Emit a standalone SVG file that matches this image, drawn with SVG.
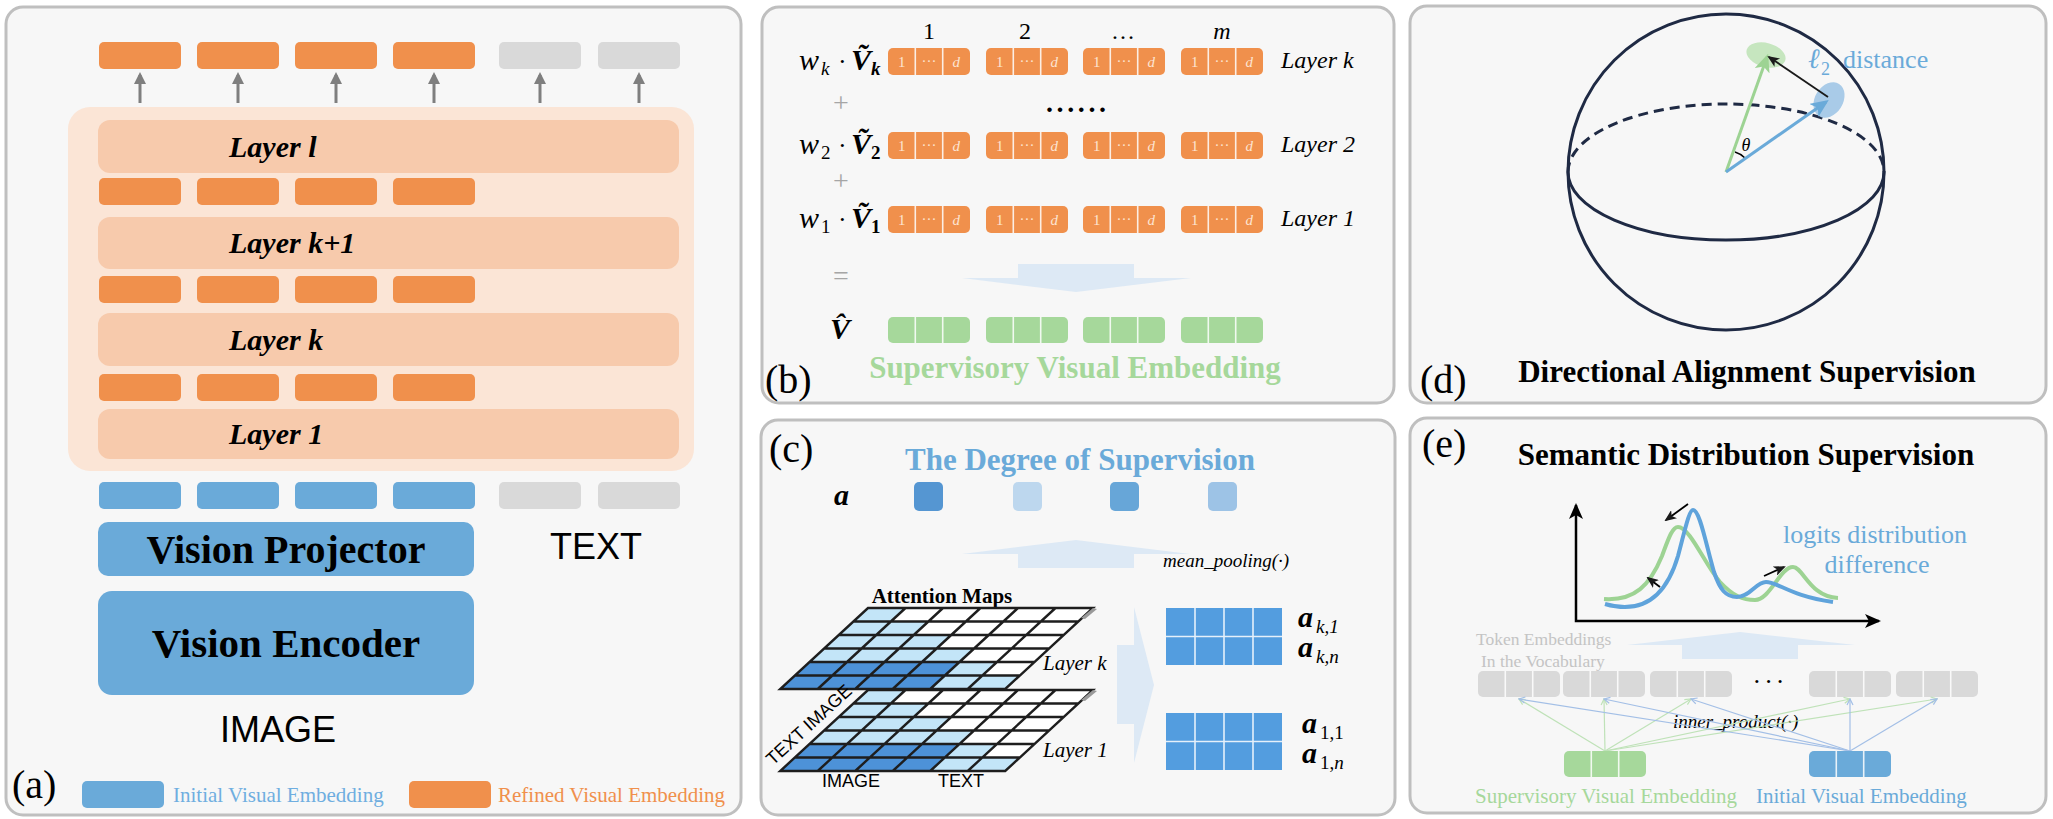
<svg xmlns="http://www.w3.org/2000/svg" width="2053" height="819" viewBox="0 0 2053 819">
<defs>
<style>
.bg{fill:#ffffff}
.panel{fill:#f7f7f7;stroke:#bfbfbf;stroke-width:3}
.o{fill:#f0904c}
.b{fill:#6aaad9}
.g{fill:#d9d9d9}
.gr{fill:#a6d89b}
.layer{fill:#f7caac}
.serif{font-family:"Liberation Serif","DejaVu Serif",serif}
.sans{font-family:"Liberation Sans",Arial,sans-serif}
.bold{font-weight:bold}
.it{font-style:italic}
.plabel{font-family:"Liberation Serif",serif;font-size:40px;fill:#000}
.title{font-family:"Liberation Serif",serif;font-size:31px;font-weight:bold}
.div{stroke:#ffffff;stroke-width:1.6;opacity:0.85}
.cell{font-family:"Liberation Serif","DejaVu Serif",serif;font-size:15px;fill:#fde4d2;text-anchor:middle}
.lightarrow{fill:#dde9f5}
.grid{fill:none;stroke:#1e1e1e;stroke-width:2.4}
.dk{fill:#4d92d8}
.lt{fill:#c3e5f8}
.wh{fill:#ffffff}
.mat{fill:#539ddf}
</style>
<marker id="mGray" viewBox="0 0 12 12" refX="9" refY="6" markerWidth="12" markerHeight="12" markerUnits="userSpaceOnUse" orient="auto"><path d="M0,0 L12,6 L0,12 z" fill="#7f7f7f"/></marker>
<marker id="mGreen" viewBox="0 0 16 14" refX="13" refY="7" markerWidth="18" markerHeight="16" markerUnits="userSpaceOnUse" orient="auto"><path d="M0,0 L16,7 L0,14 L4,7 z" fill="#9dd393"/></marker>
<marker id="mBlue" viewBox="0 0 16 14" refX="13" refY="7" markerWidth="18" markerHeight="16" markerUnits="userSpaceOnUse" orient="auto"><path d="M0,0 L16,7 L0,14 L4,7 z" fill="#6aaad9"/></marker>
<marker id="mBlack" viewBox="0 0 12 10" refX="10" refY="5" markerWidth="12" markerHeight="10" markerUnits="userSpaceOnUse" orient="auto"><path d="M0,0 L12,5 L0,10 L3,5 z" fill="#1a1a1a"/></marker>
<marker id="mAxis" viewBox="0 0 16 14" refX="14" refY="7" markerWidth="16" markerHeight="14" markerUnits="userSpaceOnUse" orient="auto-start-reverse"><path d="M0,0 L16,7 L0,14 L4,7 z" fill="#000"/></marker>
<marker id="mThinG" viewBox="0 0 8 8" refX="7" refY="4" markerWidth="8" markerHeight="8" markerUnits="userSpaceOnUse" orient="auto"><path d="M1,1 L7,4 L1,7" fill="none" stroke="#bfe2b8" stroke-width="1.2"/></marker>
<marker id="mThinB" viewBox="0 0 8 8" refX="7" refY="4" markerWidth="8" markerHeight="8" markerUnits="userSpaceOnUse" orient="auto"><path d="M1,1 L7,4 L1,7" fill="none" stroke="#a3bfe6" stroke-width="1.2"/></marker>
</defs>
<rect class="bg" x="0" y="0" width="2053" height="819"/>

<!-- ===== Panel (a) ===== -->
<g id="panel-a">
<rect class="panel" x="6" y="7" width="735" height="808" rx="17"/>
<rect id="stack" x="68" y="107" width="626" height="364" rx="22" fill="#fbe5d6"/>
<g id="top-tokens">
<rect class="o" x="99" y="42" width="82" height="27" rx="5"/>
<rect class="o" x="197" y="42" width="82" height="27" rx="5"/>
<rect class="o" x="295" y="42" width="82" height="27" rx="5"/>
<rect class="o" x="393" y="42" width="82" height="27" rx="5"/>
<rect class="g" x="499" y="42" width="82" height="27" rx="5"/>
<rect class="g" x="598" y="42" width="82" height="27" rx="5"/>
</g>
<g id="layer-l"><rect class="layer" x="98" y="120" width="581" height="53" rx="12"/><text class="serif bold it" x="229" y="157" font-size="30">Layer l</text></g>
<g id="tokens-kp1">
<rect class="o" x="99" y="178" width="82" height="27" rx="5"/><rect class="o" x="197" y="178" width="82" height="27" rx="5"/><rect class="o" x="295" y="178" width="82" height="27" rx="5"/><rect class="o" x="393" y="178" width="82" height="27" rx="5"/>
</g>
<g id="layer-kp1"><rect class="layer" x="98" y="217" width="581" height="52" rx="12"/><text class="serif bold it" x="229" y="253" font-size="30">Layer k+1</text></g>
<g id="tokens-k">
<rect class="o" x="99" y="276" width="82" height="27" rx="5"/><rect class="o" x="197" y="276" width="82" height="27" rx="5"/><rect class="o" x="295" y="276" width="82" height="27" rx="5"/><rect class="o" x="393" y="276" width="82" height="27" rx="5"/>
</g>
<g id="layer-k"><rect class="layer" x="98" y="313" width="581" height="53" rx="12"/><text class="serif bold it" x="229" y="350" font-size="30">Layer k</text></g>
<g id="tokens-1">
<rect class="o" x="99" y="374" width="82" height="27" rx="5"/><rect class="o" x="197" y="374" width="82" height="27" rx="5"/><rect class="o" x="295" y="374" width="82" height="27" rx="5"/><rect class="o" x="393" y="374" width="82" height="27" rx="5"/>
</g>
<g id="layer-1"><rect class="layer" x="98" y="409" width="581" height="50" rx="12"/><text class="serif bold it" x="229" y="444" font-size="30">Layer 1</text></g>
<g id="input-tokens">
<rect class="b" x="99" y="482" width="82" height="27" rx="5"/><rect class="b" x="197" y="482" width="82" height="27" rx="5"/><rect class="b" x="295" y="482" width="82" height="27" rx="5"/><rect class="b" x="393" y="482" width="82" height="27" rx="5"/>
<rect class="g" x="499" y="482" width="82" height="27" rx="5"/><rect class="g" x="598" y="482" width="82" height="27" rx="5"/>
</g>
<g id="vision-projector"><rect class="b" x="98" y="522" width="376" height="54" rx="10"/><text class="serif bold" x="286" y="563" font-size="40" text-anchor="middle">Vision Projector</text></g>
<g id="vision-encoder"><rect class="b" x="98" y="591" width="376" height="104" rx="14"/><text class="serif bold" x="286" y="657" font-size="41" text-anchor="middle">Vision Encoder</text></g>
<text class="sans" x="596" y="559" font-size="36" text-anchor="middle">TEXT</text>
<text class="sans" x="278" y="742" font-size="36" text-anchor="middle">IMAGE</text>
<text class="plabel" x="12" y="798">(a)</text>
<g id="legend">
<rect class="b" x="82" y="781" width="82" height="27" rx="5"/>
<text class="serif" x="173" y="802" font-size="21" fill="#6faee0">Initial Visual Embedding</text>
<rect class="o" x="409" y="781" width="82" height="27" rx="5"/>
<text class="serif" x="498" y="802" font-size="21" fill="#f0904c">Refined Visual Embedding</text>
</g>
</g>
<g id="connectors-a" stroke="#7f7f7f" stroke-width="3" marker-end="url(#mGray)">
<line x1="140" y1="103" x2="140" y2="75"/>
<line x1="238" y1="103" x2="238" y2="75"/>
<line x1="336" y1="103" x2="336" y2="75"/>
<line x1="434" y1="103" x2="434" y2="75"/>
<line x1="540" y1="103" x2="540" y2="75"/>
<line x1="639" y1="103" x2="639" y2="75"/>
</g>

<!-- ===== Panel (b) ===== -->
<g id="panel-b">
<rect class="panel" x="762" y="7" width="632" height="396" rx="17"/>
<g class="serif" font-size="24" text-anchor="middle">
<text x="929" y="39">1</text><text x="1025" y="39">2</text><text x="1123" y="39">…</text><text x="1222" y="39" font-style="italic">m</text>
</g>
<g id="row-k">
<rect class="o" x="888" y="48" width="82" height="27" rx="5"/><rect class="o" x="986" y="48" width="82" height="27" rx="5"/><rect class="o" x="1083" y="48" width="82" height="27" rx="5"/><rect class="o" x="1181" y="48" width="82" height="27" rx="5"/>
</g>
<g id="row-2">
<rect class="o" x="888" y="132" width="82" height="27" rx="5"/><rect class="o" x="986" y="132" width="82" height="27" rx="5"/><rect class="o" x="1083" y="132" width="82" height="27" rx="5"/><rect class="o" x="1181" y="132" width="82" height="27" rx="5"/>
</g>
<g id="row-1">
<rect class="o" x="888" y="206" width="82" height="27" rx="5"/><rect class="o" x="986" y="206" width="82" height="27" rx="5"/><rect class="o" x="1083" y="206" width="82" height="27" rx="5"/><rect class="o" x="1181" y="206" width="82" height="27" rx="5"/>
</g>
<g id="row-v">
<rect class="gr" x="888" y="317" width="82" height="26" rx="5"/><rect class="gr" x="986" y="317" width="82" height="26" rx="5"/><rect class="gr" x="1083" y="317" width="82" height="26" rx="5"/><rect class="gr" x="1181" y="317" width="82" height="26" rx="5"/>
</g>
<path class="div" d="M915.3,48v27M942.7,48v27M1013.3,48v27M1040.7,48v27M1110.3,48v27M1137.7,48v27M1208.3,48v27M1235.7,48v27
M915.3,132v27M942.7,132v27M1013.3,132v27M1040.7,132v27M1110.3,132v27M1137.7,132v27M1208.3,132v27M1235.7,132v27
M915.3,206v27M942.7,206v27M1013.3,206v27M1040.7,206v27M1110.3,206v27M1137.7,206v27M1208.3,206v27M1235.7,206v27
M915.3,317v26M942.7,317v26M1013.3,317v26M1040.7,317v26M1110.3,317v26M1137.7,317v26M1208.3,317v26M1235.7,317v26"/>
<g id="cell-labels">
<g class="cell"><text x="901.7" y="67">1</text><text x="929" y="66">···</text><text x="956.3" y="67" font-style="italic">d</text><text x="999.7" y="67">1</text><text x="1027" y="66">···</text><text x="1054.3" y="67" font-style="italic">d</text><text x="1096.7" y="67">1</text><text x="1124" y="66">···</text><text x="1151.3" y="67" font-style="italic">d</text><text x="1194.7" y="67">1</text><text x="1222" y="66">···</text><text x="1249.3" y="67" font-style="italic">d</text></g>
<g class="cell"><text x="901.7" y="151">1</text><text x="929" y="150">···</text><text x="956.3" y="151" font-style="italic">d</text><text x="999.7" y="151">1</text><text x="1027" y="150">···</text><text x="1054.3" y="151" font-style="italic">d</text><text x="1096.7" y="151">1</text><text x="1124" y="150">···</text><text x="1151.3" y="151" font-style="italic">d</text><text x="1194.7" y="151">1</text><text x="1222" y="150">···</text><text x="1249.3" y="151" font-style="italic">d</text></g>
<g class="cell"><text x="901.7" y="225">1</text><text x="929" y="224">···</text><text x="956.3" y="225" font-style="italic">d</text><text x="999.7" y="225">1</text><text x="1027" y="224">···</text><text x="1054.3" y="225" font-style="italic">d</text><text x="1096.7" y="225">1</text><text x="1124" y="224">···</text><text x="1151.3" y="225" font-style="italic">d</text><text x="1194.7" y="225">1</text><text x="1222" y="224">···</text><text x="1249.3" y="225" font-style="italic">d</text></g>
</g>
<g id="weights" class="serif">
<text x="799" y="70" font-size="30" font-style="italic">w</text><text x="821" y="75" font-size="19" font-style="italic">k</text><text x="838" y="70" font-size="26">·</text><text x="851" y="70" font-size="30" font-style="italic" font-weight="bold">Ṽ</text><text x="871" y="75" font-size="19" font-style="italic" font-weight="bold">k</text>
<text x="799" y="154" font-size="30" font-style="italic">w</text><text x="821" y="159" font-size="19">2</text><text x="838" y="154" font-size="26">·</text><text x="851" y="154" font-size="30" font-style="italic" font-weight="bold">Ṽ</text><text x="871" y="159" font-size="19" font-weight="bold">2</text>
<text x="799" y="228" font-size="30" font-style="italic">w</text><text x="821" y="233" font-size="19">1</text><text x="838" y="228" font-size="26">·</text><text x="851" y="228" font-size="30" font-style="italic" font-weight="bold">Ṽ</text><text x="871" y="233" font-size="19" font-weight="bold">1</text>
<g fill="#a6a6a6" font-size="28" text-anchor="middle"><text x="841" y="112">+</text><text x="841" y="190">+</text><text x="841" y="285">=</text></g>
<text x="1046" y="112" font-size="28" font-weight="bold" letter-spacing="3.6">......</text>
<text x="840" y="339" font-size="30" font-style="italic" font-weight="bold" text-anchor="middle">V̂</text>
</g>
<g class="serif it" font-size="24">
<text x="1281" y="68">Layer k</text><text x="1281" y="152">Layer 2</text><text x="1281" y="226">Layer 1</text>
</g>
<polygon class="lightarrow" points="1018,264 1134,264 1134,278 1191,278 1076,292 962,278 1018,278"/>
<text class="title" x="1075" y="378" text-anchor="middle" fill="#a6d89b">Supervisory Visual Embedding</text>
<text class="plabel" x="765" y="393">(b)</text>
</g>

<!-- ===== Panel (c) ===== -->
<g id="panel-c">
<rect class="panel" x="761" y="420" width="634" height="395" rx="17"/>
<text class="plabel" x="769" y="462">(c)</text>
<text class="title" x="1080" y="470" text-anchor="middle" fill="#6aaad9">The Degree of Supervision</text>
<text class="serif bold it" x="834" y="505" font-size="30">a</text>
<rect x="914" y="482" width="29" height="29" rx="5" fill="#5596d2"/>
<rect x="1013" y="482" width="29" height="29" rx="5" fill="#bdd7ee"/>
<rect x="1110" y="482" width="29" height="29" rx="5" fill="#67a6d8"/>
<rect x="1208" y="482" width="29" height="29" rx="5" fill="#9dc3e6"/>
<polygon class="lightarrow" points="1018,568 1134,568 1134,554 1190,554 1076,540 962,554 1018,554"/>
<text class="serif it" x="1163" y="567" font-size="19">mean_pooling(·)</text>
<text class="serif bold" x="942" y="603" font-size="21" text-anchor="middle">Attention Maps</text>
<g id="attn-layer1" transform="translate(868,690) skewX(-47.3)">
<rect class="wh" x="0" y="0" width="225" height="81"/>
<rect class="lt" x="0" y="0" width="37.5" height="13.5"/>
<rect class="lt" x="0" y="13.5" width="75" height="13.5"/>
<rect class="lt" x="0" y="27" width="112.5" height="13.5"/>
<rect class="lt" x="0" y="40.5" width="150" height="13.5"/>
<rect class="dk" x="0" y="54" width="150" height="13.5"/><rect class="lt" x="150" y="54" width="37.5" height="13.5"/>
<rect class="dk" x="0" y="67.5" width="150" height="13.5"/><rect class="lt" x="150" y="67.5" width="75" height="13.5"/>
<path class="grid" vector-effect="non-scaling-stroke" d="M0,0H225V81H0Z M37.5,0V81M75,0V81M112.5,0V81M150,0V81M187.5,0V81 M0,13.5H225M0,27H225M0,40.5H225M0,54H225M0,67.5H225"/>
</g>
<polygon points="1081,700 1093,690 1097,691 1085,701" fill="#9a9a9a"/>
<g id="attn-layerk" transform="translate(868,608) skewX(-47.3)">
<rect class="wh" x="0" y="0" width="225" height="81"/>
<rect class="lt" x="0" y="0" width="37.5" height="13.5"/>
<rect class="lt" x="0" y="13.5" width="75" height="13.5"/>
<rect class="lt" x="0" y="27" width="112.5" height="13.5"/>
<rect class="lt" x="0" y="40.5" width="150" height="13.5"/>
<rect class="dk" x="0" y="54" width="150" height="13.5"/><rect class="lt" x="150" y="54" width="37.5" height="13.5"/>
<rect class="dk" x="0" y="67.5" width="150" height="13.5"/><rect class="lt" x="150" y="67.5" width="75" height="13.5"/>
<path class="grid" vector-effect="non-scaling-stroke" d="M0,0H225V81H0Z M37.5,0V81M75,0V81M112.5,0V81M150,0V81M187.5,0V81 M0,13.5H225M0,27H225M0,40.5H225M0,54H225M0,67.5H225"/>
</g>
<polygon points="1081,618 1093,608 1097,609 1085,619" fill="#9a9a9a"/>
<g class="serif it" font-size="21"><text x="1043" y="670">Layer k</text><text x="1043" y="757">Layer 1</text></g>
<text class="sans" x="773" y="766" font-size="18" transform="rotate(-42.6 773 766)">TEXT IMAGE</text>
<text class="sans" x="851" y="787" font-size="18" text-anchor="middle">IMAGE</text>
<text class="sans" x="961" y="787" font-size="18" text-anchor="middle">TEXT</text>
<polygon class="lightarrow" points="1117,645 1134,645 1134,607 1154,685 1134,763 1134,724 1117,724"/>
<g id="mat-k">
<rect class="mat" x="1166" y="608" width="116" height="57"/>
<path class="div" d="M1195,608v57M1224,608v57M1253,608v57M1166,636.5h116"/>
</g>
<g id="mat-1">
<rect class="mat" x="1166" y="713" width="116" height="57"/>
<path class="div" d="M1195,713v57M1224,713v57M1253,713v57M1166,741.5h116"/>
</g>
<g class="serif">
<text x="1298" y="627" font-size="30" font-weight="bold" font-style="italic">a</text><text x="1316" y="633" font-size="19" font-style="italic">k,1</text>
<text x="1298" y="657" font-size="30" font-weight="bold" font-style="italic">a</text><text x="1316" y="663" font-size="19" font-style="italic">k,n</text>
<text x="1302" y="733" font-size="30" font-weight="bold" font-style="italic">a</text><text x="1320" y="739" font-size="19">1,1</text>
<text x="1302" y="763" font-size="30" font-weight="bold" font-style="italic">a</text><text x="1320" y="769" font-size="19">1,<tspan font-style="italic">n</tspan></text>
</g>
</g>

<!-- ===== Panel (d) ===== -->
<g id="panel-d">
<rect class="panel" x="1410" y="6" width="636" height="397" rx="17"/>
<g id="sphere" fill="none" stroke="#1f2a44" stroke-width="3">
<circle cx="1726" cy="172" r="158"/>
<path d="M1568,172 A158,68 0 0 1 1884,172" stroke-dasharray="10,6"/>
<path d="M1568,172 A158,68 0 0 0 1884,172"/>
</g>
<ellipse cx="1766" cy="55" rx="20" ry="12" transform="rotate(15 1766 55)" fill="#c6e6bf"/>
<ellipse cx="1829" cy="100" rx="14" ry="19" transform="rotate(32 1829 100)" fill="#a9cbe8"/>
<path d="M1735,152 A24,24 0 0 1 1745,158" fill="none" stroke="#000" stroke-width="1.5"/>
<text class="serif it" x="1746" y="151" font-size="18" text-anchor="middle">θ</text>
<text class="serif" x="1808" y="68" font-size="28" font-style="italic" fill="#6aaad9">ℓ</text>
<text class="serif" x="1821" y="75" font-size="18" fill="#6aaad9">2</text>
<text class="serif" x="1843" y="68" font-size="26" fill="#6aaad9">distance</text>
<text class="title" x="1747" y="382" text-anchor="middle">Directional Alignment Supervision</text>
<text class="plabel" x="1420" y="393">(d)</text>
</g>
<g id="connectors-d" fill="none">
<line x1="1726" y1="172" x2="1767" y2="57" stroke="#9dd393" stroke-width="3" marker-end="url(#mGreen)"/>
<line x1="1726" y1="172" x2="1826" y2="102" stroke="#6aaad9" stroke-width="3" marker-end="url(#mBlue)"/>
<line x1="1828" y1="97" x2="1769" y2="57" stroke="#1a1a1a" stroke-width="1.8" marker-end="url(#mBlack)"/>
</g>

<!-- ===== Panel (e) ===== -->
<g id="panel-e">
<rect class="panel" x="1410" y="418" width="636" height="395" rx="17"/>
<text class="plabel" x="1422" y="457">(e)</text>
<text class="title" x="1746" y="465" text-anchor="middle">Semantic Distribution Supervision</text>
<g id="chart">
<path d="M1576,505 L1576,621 L1879,621" fill="none" stroke="#000" stroke-width="2.5" marker-start="url(#mAxis)" marker-end="url(#mAxis)"/>
<path d="M1604,599 C1635,601 1650,585 1662,556 C1668,540 1672,527 1678,527 C1690,527 1705,565 1720,582 C1733,596 1743,600 1755,600 C1770,600 1780,567 1793,567 C1803,567 1810,597 1838,598" fill="none" stroke="#9dd393" stroke-width="4"/>
<path d="M1605,604 C1640,614 1665,600 1678,556 C1685,530 1689,510 1693,510 C1700,510 1706,545 1714,572 C1720,590 1726,597 1737,597 C1750,597 1756,582 1766,582 C1778,582 1790,596 1833,602" fill="none" stroke="#5fa3db" stroke-width="4"/>
<g stroke="#000" stroke-width="1.8" fill="none" marker-end="url(#mBlack)">
<line x1="1688" y1="504" x2="1666" y2="520"/>
<line x1="1660" y1="587" x2="1648" y2="578"/>
<line x1="1764" y1="576" x2="1784" y2="567"/>
</g>
</g>
<text class="serif" x="1875" y="543" font-size="26" text-anchor="middle" fill="#6aaad9">logits distribution</text>
<text class="serif" x="1877" y="573" font-size="26" text-anchor="middle" fill="#6aaad9">difference</text>
<polygon class="lightarrow" points="1682,659 1798,659 1798,645 1855,645 1740,632 1627,645 1682,645"/>
<text class="serif" x="1476" y="645" font-size="17.5" fill="#c4c4c4">Token Embeddings</text>
<text class="serif" x="1481" y="667" font-size="17.5" fill="#c4c4c4">In the Vocabulary</text>
<g id="vocab-tokens">
<rect class="g" x="1478" y="671" width="82" height="26" rx="5"/><rect class="g" x="1563" y="671" width="82" height="26" rx="5"/><rect class="g" x="1650" y="671" width="82" height="26" rx="5"/><rect class="g" x="1809" y="671" width="82" height="26" rx="5"/><rect class="g" x="1896" y="671" width="82" height="26" rx="5"/>
<path class="div" d="M1505.3,671v26M1532.7,671v26M1590.3,671v26M1617.7,671v26M1677.3,671v26M1704.7,671v26M1836.3,671v26M1863.7,671v26M1923.3,671v26M1950.7,671v26"/>
</g>
<text class="serif" x="1770" y="690" font-size="26" text-anchor="middle" letter-spacing="3">···</text>
<text class="serif it" x="1673" y="728" font-size="19">inner_product(·)</text>
</g>
<g id="connectors-e" fill="none" stroke-width="1.2">
<g stroke="#bfe2b8" marker-end="url(#mThinG)">
<line x1="1605" y1="751" x2="1519" y2="699"/>
<line x1="1605" y1="751" x2="1604" y2="699"/>
<line x1="1605" y1="751" x2="1691" y2="699"/>
<line x1="1605" y1="751" x2="1850" y2="699"/>
<line x1="1605" y1="751" x2="1937" y2="699"/>
</g>
<g stroke="#a3bfe6" marker-end="url(#mThinB)">
<line x1="1850" y1="751" x2="1519" y2="699"/>
<line x1="1850" y1="751" x2="1604" y2="699"/>
<line x1="1850" y1="751" x2="1691" y2="699"/>
<line x1="1850" y1="751" x2="1850" y2="699"/>
<line x1="1850" y1="751" x2="1937" y2="699"/>
</g>
</g>
<g id="source-tokens">
<rect class="gr" x="1564" y="751" width="82" height="26" rx="5"/>
<rect class="b" x="1809" y="751" width="82" height="26" rx="5"/>
<path class="div" d="M1591.3,751v26M1618.7,751v26M1836.3,751v26M1863.7,751v26"/>
<text class="serif" x="1475" y="803" font-size="21" fill="#a6d89b">Supervisory Visual Embedding</text>
<text class="serif" x="1756" y="803" font-size="21" fill="#6aaad9">Initial Visual Embedding</text>
</g>
</svg>
